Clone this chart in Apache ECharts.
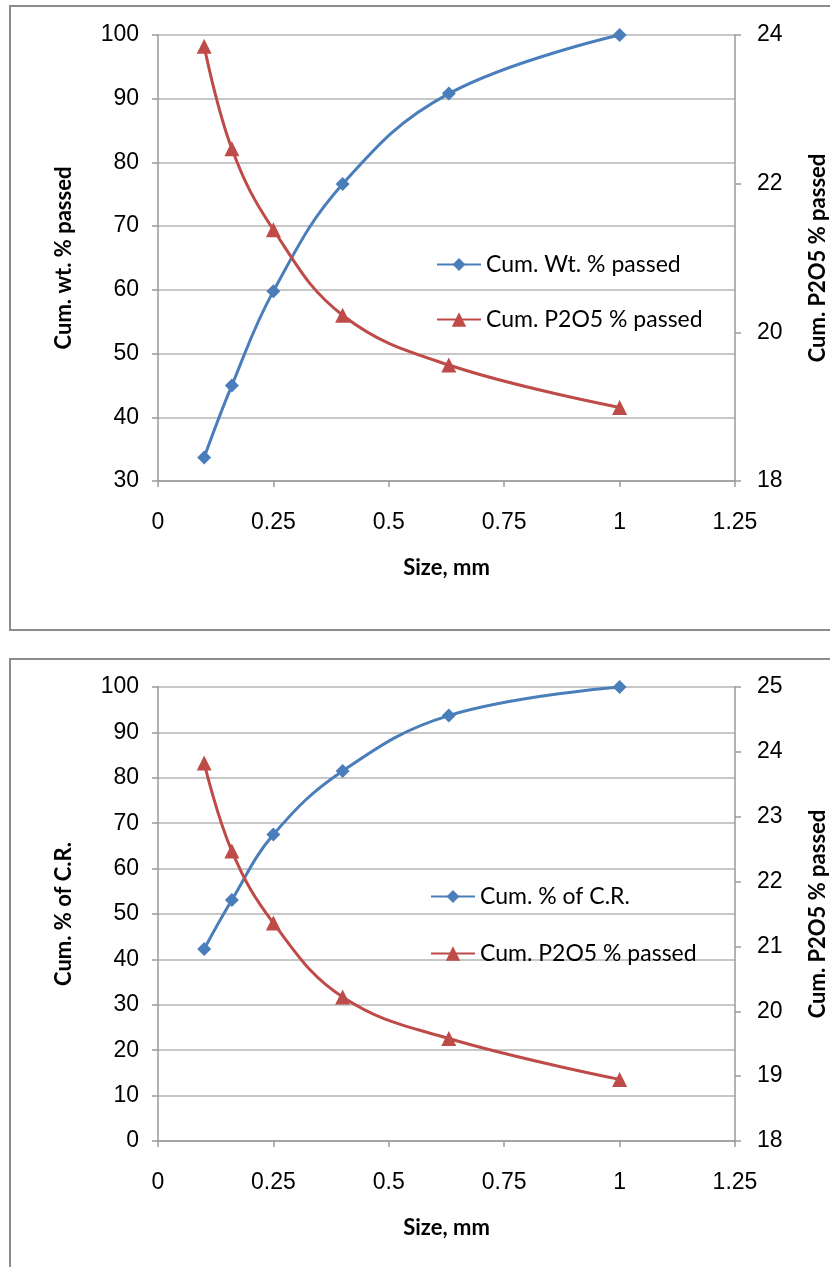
<!DOCTYPE html>
<html>
<head>
<meta charset="utf-8">
<script src="https://cdn.jsdelivr.net/npm/echarts@6/dist/echarts.min.js"></script>
<style>
html,body{margin:0;padding:0;background:#fff;}
#c{width:830px;height:1267px;}
</style>
</head>
<body>
<div id="c"></div>
<script>
// ---- data ----
const sizes = [0.1, 0.16, 0.25, 0.4, 0.63, 1.0];
const topWt = [33.7, 45.0, 59.8, 76.6, 90.8, 100];
const topP2O5 = [23.85, 22.47, 21.38, 20.23, 19.56, 18.99];
const botCR = [42.3, 53.1, 67.5, 81.5, 93.7, 100];
const botP2O5 = [23.83, 22.47, 21.36, 20.22, 19.58, 18.95];
const xTicks = [0, 0.25, 0.5, 0.75, 1, 1.25];
const topLeftName = 'Cum. wt. % passed';
const botLeftName = 'Cum. % of C.R.';
const rightName = 'Cum. P2O5 % passed';
const xName = 'Size, mm';
const nameTopWt = 'Cum. Wt. % passed';
const nameBotCR = 'Cum. % of C.R.';
const nameP2O5 = 'Cum. P2O5 % passed';

const BLUE = '#4A7EBB', RED = '#BE4B48';
const pairs = (xs, ys) => xs.map((x, i) => [x, ys[i]]);

const chart = echarts.init(document.getElementById('c'), null, {renderer: 'canvas'});

const tickFont = {color: '#000', fontFamily: 'Liberation Sans, Arial, sans-serif', fontSize: 23};
const nameFont = {color: '#000', fontFamily: 'Lato, sans-serif', fontSize: 22, fontWeight: 'bold'};
const axisLine = {show: true, lineStyle: {color: '#9a9a9a', width: 1.5}};
const axisTick = {show: true, length: 6, lineStyle: {color: '#9a9a9a', width: 1.5}};

function xAxis(gi) {
  return {
    type: 'value', gridIndex: gi, min: 0, max: 1.25, interval: 0.25,
    axisLine, axisTick, splitLine: {show: false},
    axisLabel: Object.assign({margin: 30, formatter: v => String(v)}, tickFont),
    name: xName, nameLocation: 'middle', nameGap: 76, nameTextStyle: nameFont
  };
}
function yLeft(gi, min, max, interval, name) {
  return {
    type: 'value', gridIndex: gi, position: 'left', min, max, interval,
    axisLine, axisTick,
    splitLine: {show: true, lineStyle: {color: '#b4b4b4', width: 1.5}},
    axisLabel: Object.assign({margin: 19}, tickFont),
    name, nameLocation: 'middle', nameGap: 83, nameTextStyle: nameFont
  };
}
function yRight(gi, min, max, interval) {
  return {
    type: 'value', gridIndex: gi, position: 'right', min, max, interval,
    axisLine, axisTick: {show: true, length: 6, lineStyle: {color: '#9a9a9a', width: 1.5}},
    splitLine: {show: false},
    axisLabel: Object.assign({margin: 22}, tickFont),
    name: rightName, nameLocation: 'middle', nameGap: 72, nameTextStyle: nameFont
  };
}
function lineSeries(name, data, xi, yi, color, symbol, size) {
  return {
    type: 'line', name, xAxisIndex: xi, yAxisIndex: yi, data,
    smooth: 0.4, symbol, symbolSize: size, showSymbol: true,
    lineStyle: {color, width: 3}, itemStyle: {color},
    animation: false, z: 5
  };
}

const legendText = {color: '#000', fontFamily: 'Lato, sans-serif', fontSize: 23};

chart.setOption({
  backgroundColor: '#fff',
  animation: false,
  graphic: [
    {type: 'rect', shape: {x: 10, y: 6, width: 840, height: 624}, style: {fill: 'none', stroke: '#8c8c8c', lineWidth: 2}, z: -1},
    {type: 'rect', shape: {x: 10, y: 659, width: 840, height: 640}, style: {fill: 'none', stroke: '#8c8c8c', lineWidth: 2}, z: -1}
  ],
  grid: [
    {left: 158, top: 35, width: 577, height: 446, outerBoundsMode: 'none', containLabel: false},
    {left: 158, top: 687, width: 577, height: 454, outerBoundsMode: 'none', containLabel: false}
  ],
  xAxis: [xAxis(0), xAxis(1)],
  yAxis: [
    yLeft(0, 30, 100, 10, topLeftName),
    yRight(0, 18, 24, 2),
    yLeft(1, 0, 100, 10, botLeftName),
    yRight(1, 18, 25, 1)
  ],
  legend: [
    {data: [nameTopWt], left: 431, top: 248, orient: 'vertical', itemWidth: 44, itemHeight: 16, textStyle: legendText},
    {data: [nameP2O5], left: 431, top: 303, orient: 'vertical', itemWidth: 44, itemHeight: 18, textStyle: legendText},
    {data: [nameBotCR], left: 425, top: 880, orient: 'vertical', itemWidth: 44, itemHeight: 16, textStyle: legendText},
    {data: [nameP2O5 + ' '], left: 425, top: 937, orient: 'vertical', itemWidth: 44, itemHeight: 18, textStyle: legendText}
  ],
  series: [
    lineSeries(nameTopWt, pairs(sizes, topWt), 0, 0, BLUE, 'diamond', 14),
    lineSeries(nameP2O5, pairs(sizes, topP2O5), 0, 1, RED, 'triangle', 15),
    lineSeries(nameBotCR, pairs(sizes, botCR), 1, 2, BLUE, 'diamond', 14),
    lineSeries(nameP2O5 + ' ', pairs(sizes, botP2O5), 1, 3, RED, 'triangle', 15)
  ]
});
</script>
</body>
</html>
